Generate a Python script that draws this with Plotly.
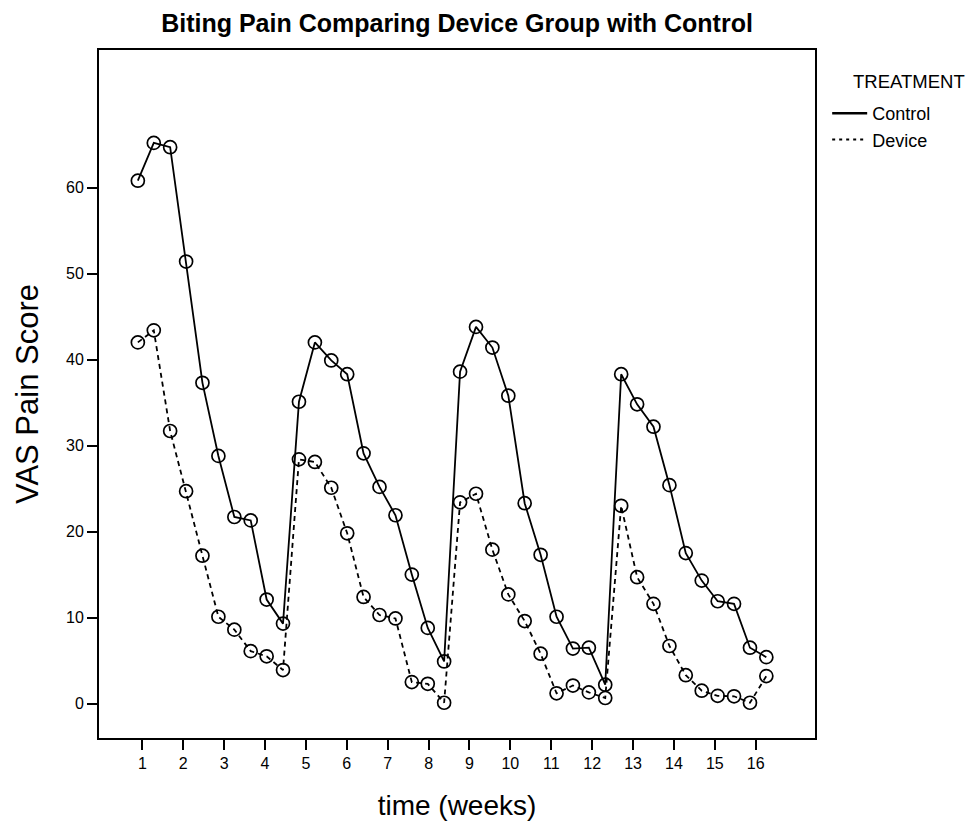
import plotly.graph_objects as go

weeks = [0.89, 1.28, 1.68, 2.07, 2.47, 2.86, 3.25, 3.65, 4.04, 4.44,
         4.83, 5.22, 5.62, 6.01, 6.41, 6.80, 7.19, 7.59, 7.98, 8.38,
         8.77, 9.16, 9.56, 9.95, 10.35, 10.74, 11.13, 11.53, 11.92, 12.32,
         12.71, 13.10, 13.50, 13.89, 14.29, 14.68, 15.07, 15.47, 15.86, 16.26]

control = [60.8, 65.2, 64.7, 51.4, 37.3, 28.8, 21.7, 21.3, 12.1, 9.3,
           35.1, 42.0, 39.9, 38.3, 29.1, 25.2, 21.9, 15.0, 8.8, 4.9,
           38.6, 43.8, 41.4, 35.8, 23.3, 17.3, 10.1, 6.4, 6.5, 2.2,
           38.3, 34.8, 32.2, 25.4, 17.5, 14.3, 11.9, 11.6, 6.5, 5.4]

device = [42.0, 43.4, 31.7, 24.7, 17.2, 10.1, 8.6, 6.1, 5.5, 3.9,
          28.4, 28.1, 25.1, 19.8, 12.4, 10.3, 9.9, 2.5, 2.3, 0.1,
          23.4, 24.4, 17.9, 12.7, 9.6, 5.8, 1.2, 2.1, 1.3, 0.65,
          23.0, 14.7, 11.6, 6.7, 3.3, 1.5, 0.9, 0.85, 0.1, 3.2]

x_ticks = list(range(1, 17))
y_ticks = [0, 10, 20, 30, 40, 50, 60]

FONT = "Liberation Sans, Arial, sans-serif"
marker = dict(symbol="circle-open", size=13, color="black", line=dict(width=1.7, color="black"))

fig = go.Figure()
fig.add_trace(go.Scatter(x=weeks, y=control, mode="lines+markers", name="Control",
                         line=dict(color="black", width=1.8), marker=marker,
                         showlegend=False))
fig.add_trace(go.Scatter(x=weeks, y=device, mode="lines+markers", name="Device",
                         line=dict(color="black", width=1.8, dash="5px,4px"), marker=marker,
                         showlegend=False))
# legend entries (line only)
fig.add_trace(go.Scatter(x=[None], y=[None], mode="lines", name="Control",
                         line=dict(color="black", width=2.5), legendgroup="a"))
fig.add_trace(go.Scatter(x=[None], y=[None], mode="lines", name="Device",
                         line=dict(color="black", width=2, dash="3px,4px"), legendgroup="b"))

# plot area in page pixels: x 99..815, y 50..738 (page has 8px body margin)
fig.update_layout(
    width=974, height=822,
    margin=dict(l=91, r=167, t=42, b=92),
    paper_bgcolor="white", plot_bgcolor="white",
    font=dict(family=FONT, color="black", size=16),
    title=dict(text="<b>Biting Pain Comparing Device Group with Control</b>",
               x=0.5, xref="paper", xanchor="center",
               y=1 - 15 / 822, yanchor="middle",
               font=dict(size=25, family=FONT, color="black")),
    showlegend=True,
    legend=dict(x=1.017, xanchor="left", y=(738 - 95) / 688, yanchor="top",
                font=dict(size=18, family=FONT),
                traceorder="grouped", tracegroupgap=0,
                bgcolor="rgba(0,0,0,0)", itemwidth=35),
)
fig.add_annotation(text="TREATMENT", xref="paper", yref="paper",
                   x=(851 - 99) / 716, y=(738 - 82) / 688,
                   xanchor="left", yanchor="middle", showarrow=False,
                   font=dict(size=18.5, family=FONT, color="black"))

fig.update_xaxes(range=[-0.06, 17.45], tickmode="array", tickvals=x_ticks,
                 ticktext=[str(t) for t in x_ticks],
                 ticks="outside", ticklen=10, tickwidth=1.5, tickcolor="black",
                 showline=True, linecolor="black", linewidth=2, mirror=True,
                 showgrid=False, zeroline=False,
                 tickfont=dict(size=16, family=FONT),
                 title=dict(text="time (weeks)", font=dict(size=28, family=FONT), standoff=24))
fig.update_yaxes(range=[-4.0, 76.0], tickmode="array", tickvals=y_ticks,
                 ticks="outside", ticklen=10, tickwidth=1.5, tickcolor="black",
                 showline=True, linecolor="black", linewidth=2, mirror=True,
                 showgrid=False, zeroline=False,
                 tickfont=dict(size=16, family=FONT),
                 title=dict(text="VAS Pain Score", font=dict(size=31, family=FONT), standoff=18))

fig.write_html("out.html")
